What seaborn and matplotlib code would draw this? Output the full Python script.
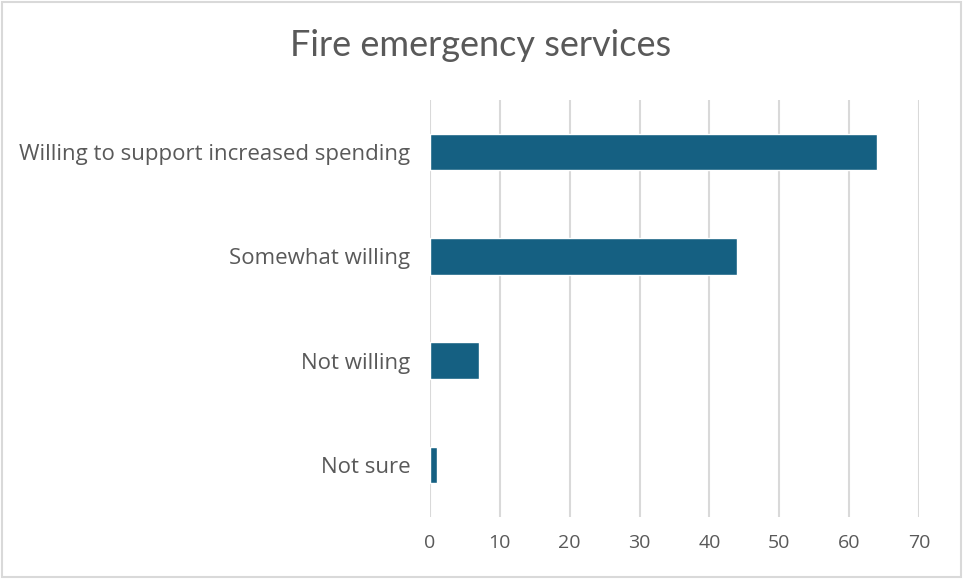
import matplotlib
matplotlib.use("Agg")
import matplotlib.pyplot as plt
import seaborn as sns
import pandas as pd
from matplotlib.patches import Rectangle

categories = ["Willing to support increased spending", "Somewhat willing", "Not willing", "Not sure"]
values = [64, 44, 7, 1]

df = pd.DataFrame({"response": categories, "pct": values})

sns.set_style("white")
plt.rcParams['font.family'] = ['Open Sans', 'DejaVu Sans']

fig = plt.figure(figsize=(9.63, 5.79), dpi=100)
ax = fig.add_axes([430 / 963, 1 - 517 / 579, (919 - 430) / 963, (517 - 100) / 579])

sns.barplot(data=df, x="pct", y="response", color="#156082", width=0.35,
            saturation=1, ax=ax, zorder=3)

ax.set_xlim(0, 70)
ax.set_xticks(range(0, 71, 10))
ax.grid(axis="x", color="#D9D9D9", linewidth=1.5, zorder=0)
ax.grid(axis="y", visible=False)
for s in ax.spines.values():
    s.set_visible(False)
ax.tick_params(axis="both", length=0, colors="#595959")
ax.tick_params(axis="x", pad=12, labelsize=14)
ax.tick_params(axis="y", pad=14, labelsize=16)
ax.set_xlabel("")
ax.set_ylabel("")

fig.text(481 / 963, 1 - 46 / 579, "Fire emergency services", ha="center", va="center",
         fontsize=26, color="#595959", family=['Lato', 'DejaVu Sans'])

fig.patches.append(Rectangle((0.002, 0.003), 0.996, 0.994, transform=fig.transFigure,
                             fill=False, edgecolor="#D9D9D9", linewidth=1.5))

fig.savefig("out.png", dpi=100, facecolor="white")
